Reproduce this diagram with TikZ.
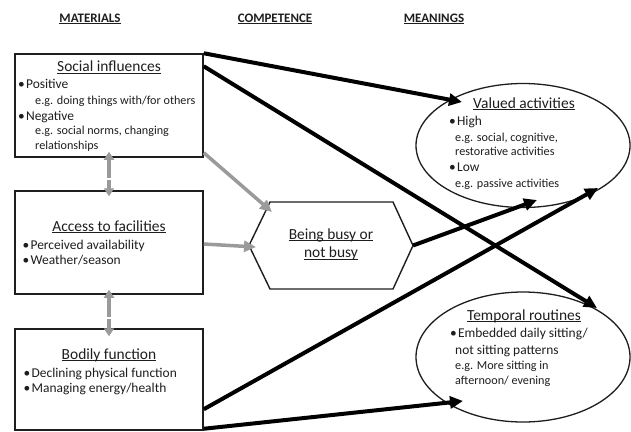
\documentclass[tikz,border=0pt]{standalone}
\usepackage{fontspec}
\setmainfont{Carlito}
\usetikzlibrary{arrows.meta,shapes.geometric,calc}
\definecolor{arrgrey}{HTML}{9A9A9A}
\definecolor{ink}{HTML}{1E1E1E}
\newcommand\myul[2][1.1bp]{\setbox0\hbox{#2}\leavevmode\rlap{\rule[-2.3bp]{\wd0}{#1}}\box0}
\begin{document}
\begin{tikzpicture}[x=1bp,y=-1bp,
  box/.style={draw=ink, line width=1.5bp, minimum width=188bp, minimum height=103bp, inner sep=0pt},
  oval/.style={draw=ink, ellipse, line width=1.3bp, minimum width=214bp, minimum height=124bp, inner sep=0pt},
  hexline/.style={draw=ink, line width=1.4bp, line join=miter},
  head/.style={font=\bfseries\fontsize{13}{15}\selectfont, text=ink, anchor=base, inner sep=0pt},
  ttl/.style={font=\fontsize{15.5}{18}\selectfont, text=ink, anchor=base, inner sep=0pt},
  itm/.style={font=\fontsize{13.5}{16}\selectfont, text=ink, anchor=base west, inner sep=0pt},
  eg/.style={font=\fontsize{12.2}{14}\selectfont, text=ink, anchor=base west, inner sep=0pt},
  blk/.style={draw=black, line width=4bp, -{Triangle[length=13bp,width=12bp]}},
  gry/.style={draw=arrgrey, line width=3.5bp, -{Triangle[length=12bp,width=11bp]}},
  vgry/.style={draw=arrgrey, line width=4bp, -{Triangle[length=8bp,width=10bp]}}
]
\path[use as bounding box, fill=white] (0,0) rectangle (631,431);

% headers
\node[head] (hMat) at (90,22) {\myul[1.5bp]{MATERIALS}};
\node[head] (hComp) at (275,22) {\myul[1.5bp]{COMPETENCE}};
\node[head] (hMean) at (434,22) {\myul[1.5bp]{MEANINGS}};

% boxes
\node[box] (soc) at (109,105.5) {};
\node[box] (acc) at (109,242.5) {};
\node[box, minimum height=101bp] (bod) at (109,379.5) {};

% social influences text
\node[ttl] (socT) at (109,71.5) {\myul{Social influences}};
\node[itm] (socP) at (18,88) {•\kern1.2bp Positive};
\node[eg] (socPe) at (35,104) {e.g. doing things with/for others};
\node[itm] (socN) at (18,120) {•\kern1.2bp Negative};
\node[eg] (socNe) at (35,134.5) {e.g. social norms, changing};
\node[eg] (socNe2) at (35,149) {relationships};

% access text
\node[ttl] (accT) at (109,231) {\myul{Access to facilities}};
\node[itm] (accA) at (22.5,249) {•\kern1.2bp Perceived availability};
\node[itm] (accB) at (22.5,264.5) {•\kern1.2bp Weather/season};

% bodily text
\node[ttl] (bodT) at (109,359) {\myul{Bodily function}};
\node[itm] (bodA) at (23.5,377) {•\kern1.2bp Declining physical function};
\node[itm] (bodB) at (23.5,392.5) {•\kern1.2bp Managing energy/health};

% hexagon
\coordinate (hL) at (249,245.5);
\coordinate (hTL) at (270,202);
\coordinate (hTR) at (393,202);
\coordinate (hR) at (413,245.5);
\coordinate (hBR) at (393,289);
\coordinate (hBL) at (270,289);
\draw[hexline] (hL) -- (hTL) -- (hTR) -- (hR) -- (hBR) -- (hBL) -- cycle;
\node[ttl] (busy1) at (331,239) {\myul{Being busy or}};
\node[ttl] (busy2) at (331,257.5) {\myul{not busy}};

% ellipses
\node[oval] (va) at (523,145.5) {};
\node[oval, minimum height=130bp] (tr) at (523,357) {};

\node[ttl] (vaT) at (524,108) {\myul{Valued activities}};
\node[itm] (vaH) at (449,125.5) {•\kern1.2bp High};
\node[eg] (vaHe) at (455,141.5) {e.g. social, cognitive,};
\node[eg] (vaHe2) at (455,155) {restorative activities};
\node[itm] (vaL) at (449,171.5) {•\kern1.2bp Low};
\node[eg] (vaLe) at (455,187) {e.g. passive activities};

\node[ttl] (trT) at (524,320) {\myul{Temporal routines}};
\node[itm] (trA) at (450,337.5) {•\kern1.2bp Embedded daily sitting/};
\node[itm] (trB) at (455,354) {not sitting patterns};
\node[eg] (trC) at (455,369.5) {e.g. More sitting in};
\node[eg] (trD) at (455,384.5) {afternoon/ evening};

% arrow targets
\coordinate (vaIn1) at (462,102);
\coordinate (vaIn2) at (537,200);
\coordinate (vaIn3) at (598,188);
\coordinate (trIn1) at (597,308);
\coordinate (trIn2) at (463,401);
\coordinate (hexIn1) at (272,212);
\coordinate (hexIn2) at (256,247);
\coordinate (m1) at (109,178);
\coordinate (m2) at (109,317);

% grey arrows
\draw[gry] ([yshift=5bp]soc.south east) -- (hexIn1);
\draw[gry] ([yshift=-1.5bp]acc.east) -- (hexIn2);
\draw[vgry] (m1) -- ([yshift=6bp]soc.south);
\draw[vgry] ([yshift=-1.5bp]m1) -- ([yshift=-6bp]acc.north);
\draw[vgry] (m2) -- ([yshift=5bp]acc.south);
\draw[vgry] ([yshift=-1.5bp]m2) -- ([yshift=-8bp]bod.north);

% black arrows
\draw[blk] (soc.north east) -- (vaIn1);
\draw[blk] ([yshift=-13bp]soc.north east) -- (trIn1);
\draw[blk] (hR) -- (vaIn2);
\draw[blk] ([yshift=-81bp]bod.north east) -- (vaIn3);
\draw[blk] ([yshift=2bp]bod.south east) -- (trIn2);
\end{tikzpicture}
\end{document}
